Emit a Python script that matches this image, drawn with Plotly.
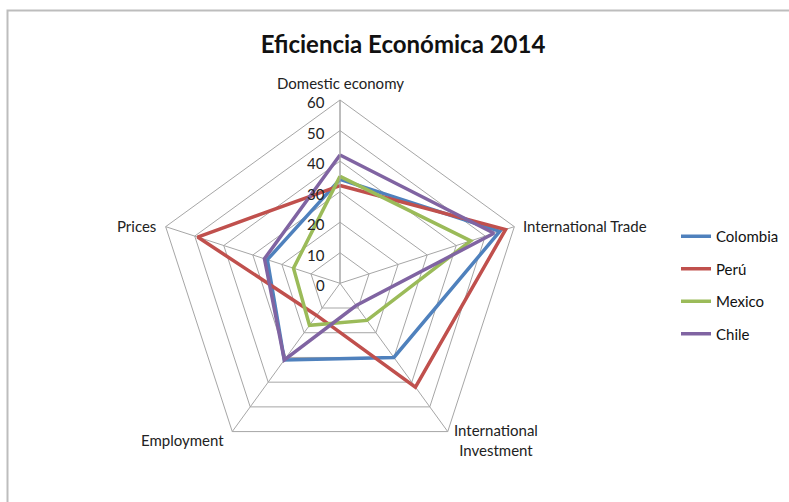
import math
import plotly.graph_objects as go

categories = ["Domestic economy", "International Trade", "International<br>Investment", "Employment", "Prices"]
countries = ["Colombia", "Perú", "Mexico", "Chile"]
colombia = [34, 55, 30, 31, 25]
peru = [32, 57, 42, 13, 49]
mexico = [35, 45, 15, 17, 16]
chile = [42, 53, 9, 31, 26]
radial_ticks = [0, 10, 20, 30, 40, 50, 60]

series = [colombia, peru, mexico, chile]
colors = ["#4F81BD", "#C0504D", "#9BBB59", "#8064A2"]

W, H = 789, 502
cx, cy, R = 340, 283.3, 183.3
RMAX = 60

fig = go.Figure()
for i, (name, vals, col) in enumerate(zip(countries, series, colors)):
    fig.add_trace(go.Scatterpolar(
        r=vals + vals[:1],
        theta=categories + categories[:1],
        mode="lines",
        name=name,
        legendgroup=name,
        line=dict(color=col, width=3.5),
    ))

# category labels placed beside each polygon vertex (Excel-like placement)
label_style = [
    dict(dx=0, dy=-17, xanchor="center", yanchor="middle"),
    dict(dx=7, dy=-1, xanchor="left", yanchor="middle"),
    dict(dx=48, dy=8, xanchor="center", yanchor="middle"),
    dict(dx=-6, dy=8, xanchor="right", yanchor="middle"),
    dict(dx=-8, dy=-1, xanchor="right", yanchor="middle"),
]
annotations = []
n = len(categories)
for k, (cat, st) in enumerate(zip(categories, label_style)):
    ang = math.radians(90 - 360 * k / n)
    vx = cx + R * math.cos(ang)
    vy = cy - R * math.sin(ang)
    annotations.append(dict(
        text=cat, xref="paper", yref="paper",
        x=(vx + st["dx"]) / W, y=1 - (vy + st["dy"]) / H,
        xanchor=st["xanchor"], yanchor=st["yanchor"], showarrow=False,
        align="center", font=dict(size=15, color="#222"),
    ))

# radial value labels, left of the vertical axis
for v in radial_ticks:
    ty = cy - R * v / RMAX
    annotations.append(dict(
        text=str(v), xref="paper", yref="paper",
        x=(cx - 13) / W, y=1 - (ty + 2) / H,
        xanchor="right", yanchor="middle", showarrow=False,
        font=dict(size=15, color="#222"),
    ))

fig.update_layout(
    width=W, height=H,
    margin=dict(l=0, r=0, t=0, b=0),
    paper_bgcolor="white",
    font=dict(family="Lato, Open Sans, sans-serif", color="#222"),
    title=dict(text="<b>Eficiencia Económica 2014</b>", x=403/W, xanchor="center",
               y=1 - 45/H, yanchor="middle", font=dict(size=24, color="#111")),
    polar=dict(
        domain=dict(x=[(cx - R)/W, (cx + R)/W], y=[1 - (cy + R)/H, 1 - (cy - R)/H]),
        gridshape="linear",
        bgcolor="white",
        angularaxis=dict(rotation=90, direction="clockwise",
                         linecolor="#a6a6a6", linewidth=1,
                         gridcolor="#a6a6a6", gridwidth=1,
                         showticklabels=False, ticks=""),
        radialaxis=dict(range=[0, RMAX], tickvals=radial_ticks, angle=90,
                        showticklabels=False,
                        linecolor="#a6a6a6", linewidth=1,
                        gridcolor="#a6a6a6", gridwidth=1,
                        ticks="", showline=True),
    ),
    legend=dict(x=676/W, y=1 - 220/H, xanchor="left", yanchor="top",
                font=dict(size=15, color="#111"), tracegroupgap=10,
                traceorder="grouped", itemwidth=30),
    annotations=annotations,
    shapes=[dict(type="rect", xref="paper", yref="paper",
                 x0=7.5/W, x1=1.05, y0=-0.05, y1=1 - 10.5/H,
                 line=dict(color="#bdbdbd", width=2))],
)

fig.write_html("out.html", config={"displayModeBar": False},
               post_script="document.body.style.margin='0';")
